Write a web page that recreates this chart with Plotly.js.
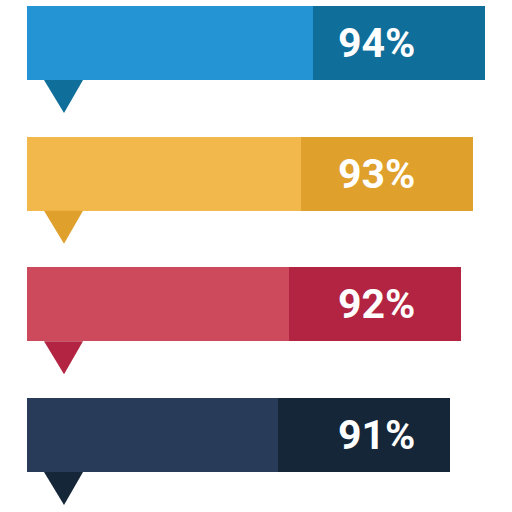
<!DOCTYPE html>
<html>
<head>
<meta charset="utf-8">
<script src="https://cdn.plot.ly/plotly-3.0.1.min.js"></script>
<style>html,body{margin:0;padding:0;background:#fff;}#chart{width:512px;height:512px;}</style>
</head>
<body>
<div id="chart"></div>
<script>
// ---- data ----
const categories = ["A", "B", "C", "D"];
const values = [94, 93, 92, 91];
const labels = ["94%", "93%", "92%", "91%"];
const lightColors = ["#2494D4", "#F3B84C", "#CD4A5C", "#283C59"];
const darkColors = ["#0F6E9A", "#E0A02C", "#B22441", "#152639"];

// ---- style constants ----
const W = 512, H = 512;
const marginL = 27, marginR = 0;
const pxPerUnit = 11.7;          // horizontal scale
const xStart = 54.87;            // axis value at left edge of plot
const xEnd = xStart + (W - marginL - marginR) / pxPerUnit;
const rowPx = 130.67;            // row spacing in px
const firstCenterPx = 43;
const barPx = 74;
const darkUnits = 172 / pxPerUnit;  // width of dark label box in axis units
const labelPaperX = (376 - marginL) / (W - marginL - marginR);
const triLeftPx = 17, triRightPx = 56, triApexPx = 37, triHeightPx = 33;

const rows = categories.map((c, i) => i);
const yTop = -firstCenterPx / rowPx;
const yBottom = (H - firstCenterPx) / rowPx;
const barWidth = barPx / rowPx;
const plotW = W - marginL - marginR;

const lightTrace = {
  type: "bar", orientation: "h",
  y: rows, x: values.map(v => v - darkUnits),
  width: barWidth,
  marker: {color: lightColors, line: {width: 0}},
  hoverinfo: "skip", showlegend: false
};
const darkTrace = {
  type: "bar", orientation: "h",
  y: rows, x: values.map(() => darkUnits),
  width: barWidth,
  marker: {color: darkColors, line: {width: 0}},
  hoverinfo: "skip", showlegend: false
};

const annotations = rows.map(i => ({
  xref: "paper", yref: "y", x: labelPaperX, y: i,
  text: "<b>" + labels[i] + "</b>", showarrow: false,
  xanchor: "center", yanchor: "middle",
  font: {family: "Roboto, sans-serif", size: 41, color: "#ffffff"}
}));

const shapes = rows.map(i => {
  const top = i + barWidth / 2;
  const bottom = top + triHeightPx / rowPx;
  const xl = triLeftPx / plotW, xr = triRightPx / plotW, xa = triApexPx / plotW;
  return {
    type: "path", xref: "paper", yref: "y",
    path: `M ${xl},${top} L ${xr},${top} L ${xa},${bottom} Z`,
    fillcolor: darkColors[i], line: {width: 0}, layer: "above"
  };
});

const layout = {
  width: W, height: H,
  margin: {l: marginL, r: marginR, t: 0, b: 0, pad: 0},
  paper_bgcolor: "#ffffff", plot_bgcolor: "#ffffff",
  barmode: "stack", bargap: 0,
  xaxis: {range: [xStart, xEnd], visible: false, fixedrange: true},
  yaxis: {range: [yBottom, yTop], visible: false, fixedrange: true},
  annotations: annotations,
  shapes: shapes,
  showlegend: false
};

Plotly.newPlot("chart", [lightTrace, darkTrace], layout, {displayModeBar: false, staticPlot: true});
</script>
</body>
</html>
